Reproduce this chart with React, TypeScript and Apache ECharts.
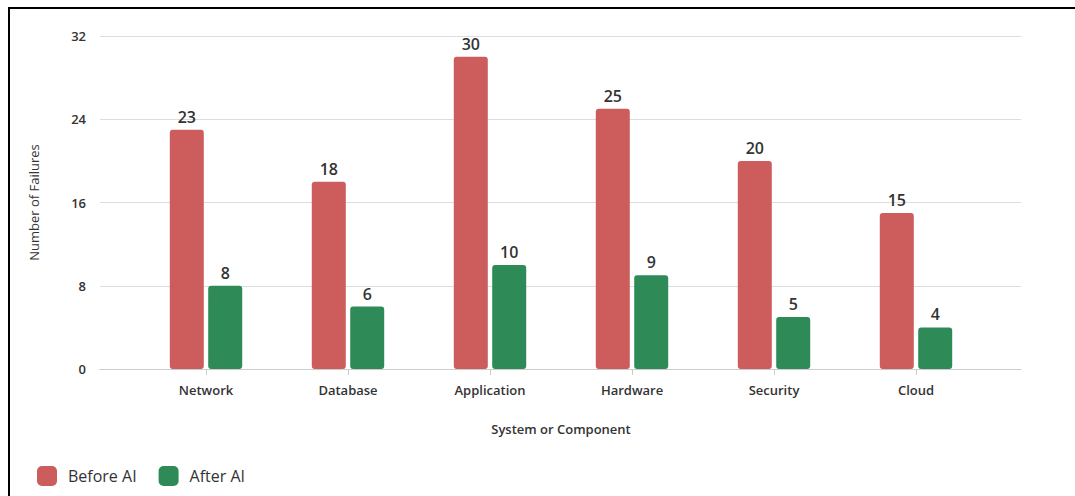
import React, { useEffect, useRef } from "react";
import * as echarts from "echarts";

const categories = ["Network", "Database", "Application", "Hardware", "Security", "Cloud"];
const beforeAI = [23, 18, 30, 25, 20, 15];
const afterAI = [8, 6, 10, 9, 5, 4];
const yTicks = { min: 0, max: 32, interval: 8 };

const FONT = "'Open Sans', 'Noto Sans', sans-serif";
const TXT = "#333";

export default function App() {
  const ref = useRef<HTMLDivElement>(null);
  useEffect(() => {
    if (!ref.current) return;
    const chart = echarts.init(ref.current, null, { renderer: "svg" });
    chart.setOption({
      animation: false,
      textStyle: { fontFamily: FONT },
      graphic: [
        { type: "line", shape: { x1: 8, y1: 8, x2: 1075, y2: 8 }, style: { stroke: "#000", lineWidth: 2 } },
        { type: "line", shape: { x1: 9, y1: 7, x2: 9, y2: 496 }, style: { stroke: "#000", lineWidth: 2 } },
      ],
      grid: [
        { left: 100, right: 54, top: 36, bottom: 127 },
        { left: 135, right: 88, top: 36, bottom: 127 },
      ],
      legend: {
        left: 32,
        top: 461,
        icon: "roundRect",
        itemWidth: 20,
        itemHeight: 20,
        itemGap: 22,
        textStyle: { fontSize: 16, color: TXT, fontFamily: FONT, padding: [0, 0, 0, 6] },
        data: ["Before AI", "After AI"],
      },
      xAxis: [
        {
          gridIndex: 0,
          type: "category",
          data: [""],
          axisLine: { show: true, lineStyle: { color: "#ccc" } },
          axisTick: { show: false },
          axisLabel: { show: false },
        },
        {
          gridIndex: 1,
          type: "category",
          data: categories,
          axisLine: { show: false },
          axisTick: { show: true, alignWithLabel: true, length: 6, lineStyle: { color: "#ccc" } },
          axisLabel: { color: TXT, fontSize: 13, fontWeight: 600, margin: 14, fontFamily: FONT },
          name: "System or Component",
          nameLocation: "middle",
          nameGap: 53,
          nameTextStyle: { color: TXT, fontSize: 13, fontWeight: 600, fontFamily: FONT },
        },
      ],
      yAxis: [
        {
          gridIndex: 0,
          type: "value",
          min: yTicks.min,
          max: yTicks.max,
          interval: yTicks.interval,
          axisLine: { show: false },
          axisTick: { show: false },
          axisLabel: { color: TXT, fontSize: 13, fontWeight: 600, margin: 14, fontFamily: FONT },
          splitLine: { lineStyle: { color: "#ddd" } },
          name: "Number of Failures",
          nameLocation: "middle",
          nameGap: 60,
          nameTextStyle: { color: TXT, fontSize: 13, fontWeight: 500, fontFamily: FONT },
        },
        {
          gridIndex: 1,
          type: "value",
          min: yTicks.min,
          max: yTicks.max,
          interval: yTicks.interval,
          show: false,
          splitLine: { show: false },
        },
      ],
      series: [
        {
          name: "Before AI",
          type: "bar",
          xAxisIndex: 1,
          yAxisIndex: 1,
          data: beforeAI,
          barWidth: 34,
          barGap: "13%",
          itemStyle: { color: "#CD5C5C", borderRadius: 3 },
          label: { show: true, position: "top", distance: 5, color: TXT, fontSize: 16, fontWeight: 600, fontFamily: FONT },
        },
        {
          name: "After AI",
          type: "bar",
          xAxisIndex: 1,
          yAxisIndex: 1,
          data: afterAI,
          barWidth: 34,
          barGap: "13%",
          itemStyle: { color: "#2E8B57", borderRadius: 3 },
          label: { show: true, position: "top", distance: 5, color: TXT, fontSize: 16, fontWeight: 600, fontFamily: FONT },
        },
      ],
    });
    return () => chart.dispose();
  }, []);
  return <div ref={ref} style={{ position: "fixed", left: 0, top: 0, width: 1075, height: 496, background: "#fff" }} />;
}
